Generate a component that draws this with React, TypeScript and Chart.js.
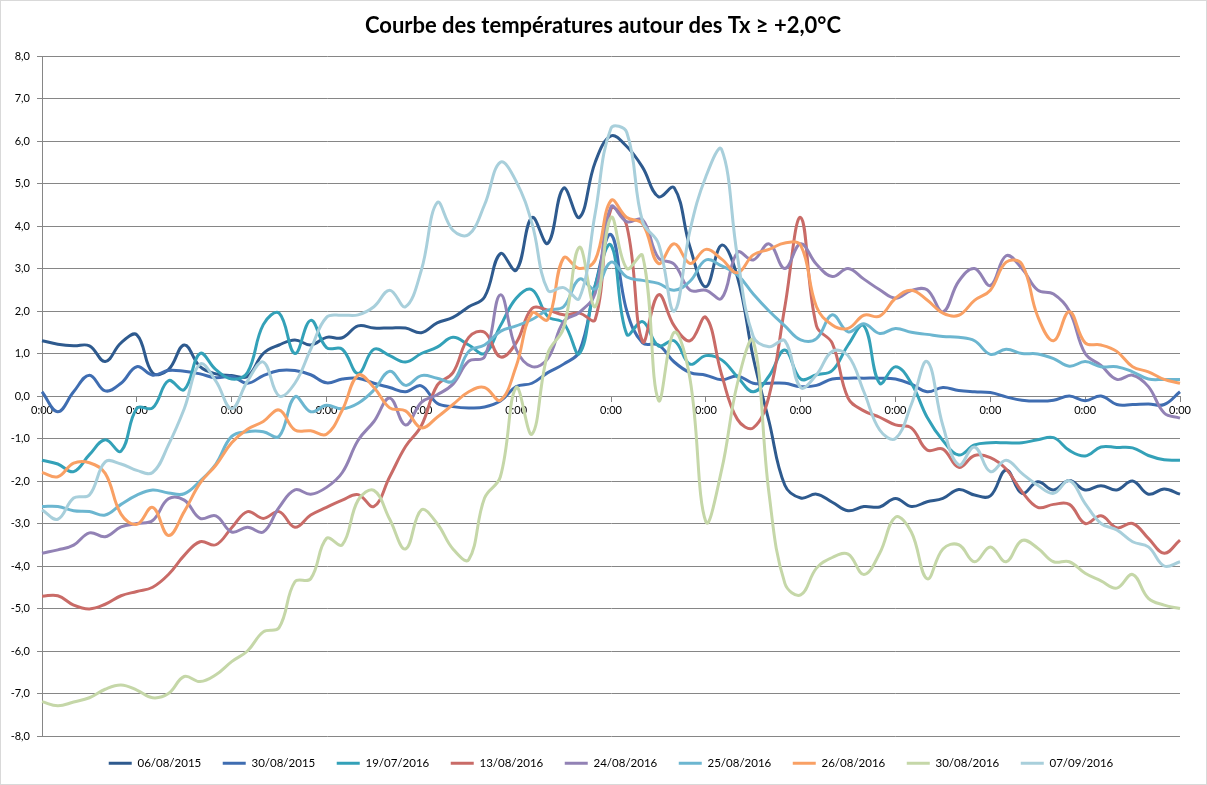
import React, { useEffect, useRef } from 'react';
import { Chart, registerables } from 'chart.js';

Chart.register(...registerables);

const chartTitle = 'Courbe des températures autour des Tx ≥ +2,0°C';

const xLabels = [
  '0:00', '4:00', '8:00', '12:00', '16:00', '20:00',
  '0:00', '4:00', '8:00', '12:00', '16:00', '20:00',
  '0:00', '4:00', '8:00', '12:00', '16:00', '20:00',
  '0:00', '4:00', '8:00', '12:00', '16:00', '20:00',
  '0:00', '4:00', '8:00', '12:00', '16:00', '20:00',
  '0:00', '4:00', '8:00', '12:00', '16:00', '20:00',
  '0:00', '4:00', '8:00', '12:00', '16:00', '20:00',
  '0:00', '4:00', '8:00', '12:00', '16:00', '20:00',
  '0:00', '4:00', '8:00', '12:00', '16:00', '20:00',
  '0:00', '4:00', '8:00', '12:00', '16:00', '20:00',
  '0:00', '4:00', '8:00', '12:00', '16:00', '20:00',
  '0:00', '4:00', '8:00', '12:00', '16:00', '20:00',
  '0:00',
];

const yTickLabels = [
  '-8,0', '-7,0', '-6,0', '-5,0', '-4,0', '-3,0', '-2,0', '-1,0', '0,0',
  '1,0', '2,0', '3,0', '4,0', '5,0', '6,0', '7,0', '8,0',
];

const seriesNames = [
  '06/08/2015', '30/08/2015', '19/07/2016', '13/08/2016', '24/08/2016',
  '25/08/2016', '26/08/2016', '30/08/2016', '07/09/2016',
];

const seriesColors = [
  '#2E5A8E', '#3F6DB1', '#33A1B8', '#C96B67', '#9282B5',
  '#6CB6D0', '#F9A064', '#C5D7A8', '#A8CFDB',
];

const t06082015 = [1.30, 1.22, 1.18, 1.18, 0.81, 1.25, 1.44, 0.54, 0.62, 1.2, 0.69, 0.52, 0.48, 0.46, 1.0, 1.2, 1.32, 1.2, 1.38, 1.37, 1.65, 1.6, 1.6, 1.6, 1.49, 1.72, 1.85, 2.1, 2.33, 3.35, 2.96, 4.2, 3.59, 4.89, 4.2, 5.5, 6.12, 5.87, 5.38, 4.69, 4.9, 3.5, 2.57, 3.55, 2.8, 0.9, -0.6, -2.1, -2.4, -2.31, -2.5, -2.7, -2.6, -2.61, -2.41, -2.6, -2.49, -2.41, -2.2, -2.33, -2.35, -1.74, -2.29, -2.02, -2.21, -1.99, -2.21, -2.11, -2.21, -2.0, -2.31, -2.19, -2.31];
const t30082015 = [0.10, -0.37, 0.1, 0.49, 0.12, 0.3, 0.69, 0.49, 0.6, 0.58, 0.52, 0.43, 0.46, 0.3, 0.48, 0.6, 0.6, 0.5, 0.31, 0.4, 0.42, 0.3, 0.2, 0.1, 0.24, -0.17, -0.25, -0.28, -0.26, -0.12, 0.22, 0.3, 0.55, 0.75, 1.05, 2.6, 3.8, 2.0, 1.25, 1.2, 0.8, 0.55, 0.49, 0.38, 0.47, 0.3, 0.3, 0.3, 0.22, 0.25, 0.4, 0.42, 0.42, 0.42, 0.4, 0.28, 0.1, 0.2, 0.13, 0.1, 0.08, -0.02, -0.1, -0.12, -0.1, 0, -0.11, 0, -0.2, -0.2, -0.19, -0.2, 0.1];
const t19072016 = [-1.51, -1.6, -1.78, -1.38, -1.03, -1.3, -0.29, -0.28, 0.36, 0.15, 1.0, 0.62, 0.4, 0.55, 1.68, 1.95, 1.0, 1.78, 1.14, 1.1, 0.53, 1.1, 0.95, 0.8, 1.0, 1.15, 1.38, 1.2, 1.0, 1.65, 2.3, 2.5, 1.87, 1.72, 1.0, 2.6, 3.55, 1.45, 1.75, 1.18, 1.3, 0.75, 0.95, 0.85, 0.45, 0.1, 0.47, 1.08, 0.4, 0.5, 0.6, 1.2, 1.65, 0.3, 0.69, 0.3, -0.5, -1.05, -1.39, -1.15, -1.1, -1.1, -1.1, -1.03, -0.98, -1.28, -1.41, -1.2, -1.21, -1.22, -1.4, -1.5, -1.51];
const t13082016 = [-4.71, -4.7, -4.92, -5.01, -4.9, -4.7, -4.6, -4.5, -4.2, -3.75, -3.43, -3.5, -3.1, -2.72, -2.88, -2.72, -3.09, -2.8, -2.62, -2.45, -2.32, -2.6, -1.9, -1.19, -0.7, 0.25, 0.55, 1.38, 1.5, 0.92, 1.25, 2.06, 2.02, 1.91, 1.95, 1.8, 4.4, 4.0, 1.28, 2.38, 1.65, 1.3, 1.85, 0.5, -0.55, -0.75, 0.0, 2.1, 4.2, 1.65, 1.24, -0.05, -0.35, -0.5, -0.68, -0.75, -1.27, -1.25, -1.68, -1.4, -1.45, -1.72, -2.25, -2.62, -2.55, -2.55, -3.0, -2.82, -3.1, -3.0, -3.35, -3.7, -3.39];
const t24082016 = [-3.70, -3.62, -3.51, -3.22, -3.31, -3.08, -3.0, -2.93, -2.42, -2.45, -2.88, -2.82, -3.2, -3.09, -3.2, -2.62, -2.21, -2.31, -2.15, -1.8, -1.04, -0.6, -0.05, -0.68, -0.15, 0.03, 0.28, 0.82, 0.92, 2.38, 1.1, 0.69, 0.88, 1.75, 1.97, 2.42, 4.45, 4.1, 4.15, 3.25, 3.1, 2.49, 2.49, 2.3, 3.38, 3.2, 3.58, 3.0, 3.58, 3.1, 2.81, 3.0, 2.75, 2.5, 2.3, 2.48, 2.5, 1.98, 2.7, 3.0, 2.6, 3.3, 3.0, 2.49, 2.4, 2.0, 1.0, 0.72, 0.39, 0.49, 0.22, -0.4, -0.52];
const t25082016 = [-2.6, -2.6, -2.7, -2.72, -2.8, -2.55, -2.33, -2.21, -2.28, -2.3, -2.0, -1.6, -0.95, -0.84, -0.84, -0.95, -0.02, -0.37, -0.22, -0.3, -0.17, 0.14, 0.58, 0.25, 0.48, 0.42, 0.35, 1.05, 1.2, 1.52, 1.65, 1.8, 2.02, 2.1, 2.75, 2.52, 3.15, 2.8, 2.72, 2.65, 2.49, 2.7, 3.2, 3.06, 2.85, 2.4, 2.0, 1.65, 1.32, 1.35, 1.91, 1.51, 1.7, 1.47, 1.59, 1.5, 1.45, 1.40, 1.38, 1.3, 0.98, 1.1, 1.0, 0.99, 0.88, 0.7, 0.81, 0.69, 0.69, 0.57, 0.4, 0.39, 0.39];
const t26082016 = [-1.8, -1.9, -1.58, -1.57, -1.82, -2.78, -3.02, -2.62, -3.28, -2.72, -2.05, -1.63, -1.1, -0.78, -0.6, -0.33, -0.8, -0.82, -0.9, -0.33, 0.49, 0.2, -0.28, -0.35, -0.75, -0.5, -0.2, 0.1, 0.2, -0.1, 0.7, 1.95, 1.8, 3.25, 3.0, 3.2, 4.6, 4.2, 4.05, 3.12, 3.58, 3.12, 3.45, 3.22, 2.9, 3.32, 3.45, 3.6, 3.55, 2.1, 1.67, 1.59, 1.9, 1.88, 2.3, 2.49, 2.26, 1.95, 1.9, 2.25, 2.49, 3.15, 3.1, 1.87, 1.3, 1.98, 1.25, 1.2, 1.05, 0.69, 0.57, 0.39, 0.3];
const t30082016 = [-7.19, -7.29, -7.2, -7.1, -6.9, -6.8, -6.92, -7.1, -7.0, -6.6, -6.72, -6.56, -6.25, -6.0, -5.55, -5.45, -4.37, -4.3, -3.35, -3.5, -2.45, -2.22, -2.9, -3.6, -2.68, -3.0, -3.6, -3.85, -2.4, -1.9, 0.2, -0.9, 1.0, 1.6, 3.5, 2.1, 4.2, 3.0, 3.3, -0.1, 1.5, 0.4, -2.96, -1.74, 0.3, 1.3, -2.3, -4.41, -4.68, -4.05, -3.8, -3.72, -4.2, -3.7, -2.85, -3.2, -4.3, -3.6, -3.5, -3.9, -3.55, -3.9, -3.4, -3.58, -3.9, -3.9, -4.17, -4.35, -4.52, -4.2, -4.76, -4.92, -5.0];
const t07092016 = [-2.68, -2.9, -2.4, -2.33, -1.55, -1.6, -1.75, -1.8, -1.15, -0.3, 0.75, 0.35, -0.3, 0.35, 0.8, 0.0, 0.3, 1.1, 1.85, 1.9, 1.91, 2.1, 2.49, 2.1, 2.96, 4.55, 3.9, 3.8, 4.5, 5.5, 5.05, 4.06, 2.49, 2.55, 2.3, 4.3, 6.3, 6.2, 4.1, 3.59, 2.0, 3.9, 5.16, 5.8, 3.28, 1.4, 1.16, 1.3, 0.2, 0.5, 1.05, 0.95, 0.1, -0.8, -1.0, -0.2, 0.81, -0.7, -1.62, -1.2, -1.78, -1.51, -1.82, -2.1, -2.29, -1.99, -2.53, -3.0, -3.15, -3.43, -3.55, -4.0, -3.9];

const FONT = 'Lato, "Liberation Sans", Arial, sans-serif';

export default function App() {
  const ref = useRef<HTMLCanvasElement>(null);

  useEffect(() => {
    const series = [t06082015, t30082015, t19072016, t13082016, t24082016, t25082016, t26082016, t30082016, t07092016];
    const frame = {
      id: 'frame',
      beforeDraw(chart: any) {
        const c = chart.ctx;
        c.save();
        c.fillStyle = '#ffffff';
        c.fillRect(0, 0, chart.width, chart.height);
        c.strokeStyle = '#D9D9D9';
        c.lineWidth = 1;
        c.strokeRect(0.5, 0.5, chart.width - 1, chart.height - 1);
        c.restore();
      },
      afterDraw(chart: any) {
        const c = chart.ctx;
        c.save();
        c.fillStyle = '#000000';
        c.font = 'bold 22px ' + FONT;
        c.textAlign = 'center';
        c.textBaseline = 'middle';
        c.fillText(chartTitle, 603, 26);
        c.restore();
      },
    };
    const chart = new Chart(ref.current as HTMLCanvasElement, {
      type: 'line',
      data: {
        labels: xLabels,
        datasets: series.map((d, i) => ({
          label: seriesNames[i],
          data: d,
          borderColor: seriesColors[i],
          backgroundColor: seriesColors[i],
          borderWidth: 3,
          pointRadius: 0,
          pointHoverRadius: 0,
          tension: 0.4,
          fill: false,
          order: -i,
        })),
      },
      options: {
        animation: false,
        responsive: false,
        events: [],
        layout: { padding: { left: 0, right: 27, top: 56, bottom: 6 } },
        plugins: {
          title: { display: false },
          legend: {
            position: 'bottom',
            fullSize: false,
            labels: {
              usePointStyle: true,
              pointStyle: 'line',
              pointStyleWidth: 23,
              color: '#000000',
              font: { family: FONT, size: 11.5 },
              padding: 21.5,
              sort: (a: any, b: any) => a.datasetIndex - b.datasetIndex,
            },
          },
          tooltip: { enabled: false },
        },
        scales: {
          x: {
            type: 'category',
            position: { y: 0 } as any,
            offset: false,
            grid: {
              display: true,
              drawOnChartArea: false,
              drawTicks: true,
              tickLength: 5,
              tickColor: (ctx: any) => (ctx.index % 6 === 0 ? '#868686' : 'rgba(0,0,0,0)'),
            },
            border: { display: true, color: '#868686', width: 1 },
            ticks: {
              autoSkip: false,
              maxRotation: 0,
              minRotation: 0,
              padding: 3,
              color: '#000000',
              font: { family: FONT, size: 11 },
              callback: (_v: any, i: number) => (i % 6 === 0 ? xLabels[i] : ''),
            },
          },
          y: {
            min: -8,
            max: 8,
            afterFit: (s: any) => {
              s.width = 42;
            },
            grid: { color: '#868686', tickLength: 5, lineWidth: 1 },
            border: { display: true, color: '#868686' },
            ticks: {
              stepSize: 1,
              padding: 7,
              color: '#000000',
              font: { family: FONT, size: 11 },
              callback: (v: any) => yTickLabels[Math.round(Number(v)) + 8],
            },
          },
        },
      },
      plugins: [frame],
    } as any);
    return () => chart.destroy();
  }, []);

  return (
    <div style={{ position: 'fixed', left: 0, top: 0, width: 1207, height: 785, background: '#fff' }}>
      <canvas ref={ref} width={1207} height={785} style={{ display: 'block' }} />
    </div>
  );
}
